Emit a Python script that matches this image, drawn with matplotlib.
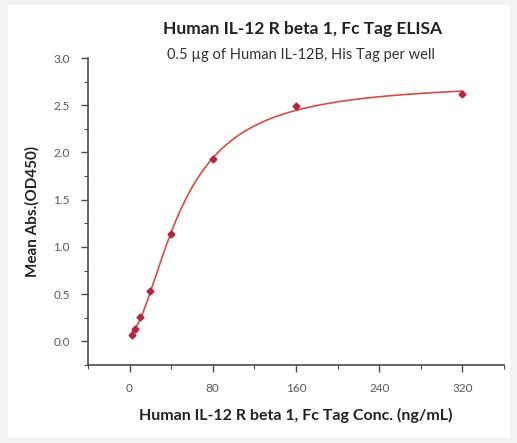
import numpy as np
import matplotlib
matplotlib.use("Agg")
import matplotlib.pyplot as plt
from matplotlib.patches import Rectangle
from matplotlib.ticker import MultipleLocator

plt.rcParams['font.family'] = ['Lato', 'DejaVu Sans']

# data
conc = [320, 160, 80, 40, 20, 10, 5, 2.5]
od450 = [2.62, 2.49, 1.93, 1.14, 0.53, 0.26, 0.13, 0.07]

title = "Human IL-12 R beta 1, Fc Tag ELISA"
subtitle = "0.5 \u00b5g of Human IL-12B, His Tag per well"
x_label = "Human IL-12 R beta 1, Fc Tag Conc. (ng/mL)"
y_label = "Mean Abs.(OD450)"
x_ticks = [0, 80, 160, 240, 320]
y_ticks = [0.0, 0.5, 1.0, 1.5, 2.0, 2.5, 3.0]

point_color = "#b8233a"
line_color = "#dc4a45"
axis_color = "#4a4a4a"
tick_text = "#5a5a5a"


def fit_4pl(x, y):
    # coarse grid over slope and midpoint, bottom/top solved linearly
    x = np.asarray(x, float)
    y = np.asarray(y, float)
    best = None
    for b in np.linspace(0.6, 3.0, 121):
        for c in np.linspace(10, 300, 581):
            g = 1.0 / (1.0 + (x / c) ** b)
            A = np.column_stack([g, 1 - g])
            coef, *_ = np.linalg.lstsq(A, y, rcond=None)
            err = np.sum((A @ coef - y) ** 2)
            if best is None or err < best[0]:
                best = (err, coef[0], coef[1], b, c)
    _, a, d, b, c = best
    return lambda t: d + (a - d) / (1.0 + (t / c) ** b)


curve = fit_4pl(conc, od450)
xs = np.linspace(min(conc), max(conc), 400)

fig = plt.figure(figsize=(5.17, 4.43), dpi=100)
fig.patch.set_facecolor("#f2f2f2")
fig.add_artist(Rectangle((8 / 517, 5 / 443), 502 / 517, 433 / 443,
                         transform=fig.transFigure, facecolor="white",
                         edgecolor="none", zorder=-5))

ax = fig.add_axes([0.170, 0.176, 0.805, 0.693])
ax.set_zorder(2)
ax.set_facecolor("none")
ax.plot(xs, curve(xs), color=line_color, lw=1.2, zorder=2)
ax.plot(conc, od450, linestyle="none", marker="D", markersize=3.5,
        color=point_color, zorder=3)

ax.set_xlim(-40, 360)
ax.set_ylim(-0.25, 3.0)
ax.set_xticks(x_ticks)
ax.set_yticks(y_ticks)
ax.set_yticklabels([f"{v:.1f}" for v in y_ticks])
ax.xaxis.set_minor_locator(MultipleLocator(40))
ax.yaxis.set_minor_locator(MultipleLocator(0.25))

for side in ("top", "right"):
    ax.spines[side].set_visible(False)
for side in ("left", "bottom"):
    ax.spines[side].set_color(axis_color)
    ax.spines[side].set_linewidth(1.2)

ax.tick_params(which="major", direction="out", length=5, width=1.0,
               color=axis_color, labelcolor=tick_text, labelsize=8.5, pad=8)
ax.tick_params(which="minor", direction="out", length=3, width=0.8,
               color=axis_color)

ax.set_xlabel(x_label, fontsize=11.5, fontweight="bold", color="#222222", labelpad=10)
ax.set_ylabel(y_label, fontsize=11, fontweight="bold", color="#222222", labelpad=10)

fig.text(0.586, 0.935, title, ha="center", va="center", fontsize=12.5,
         fontweight="bold", color="#222222", zorder=3)
fig.text(0.582, 0.875, subtitle, ha="center", va="center", fontsize=10.5,
         color="#333333", zorder=3)

fig.savefig("out.png", dpi=100)
